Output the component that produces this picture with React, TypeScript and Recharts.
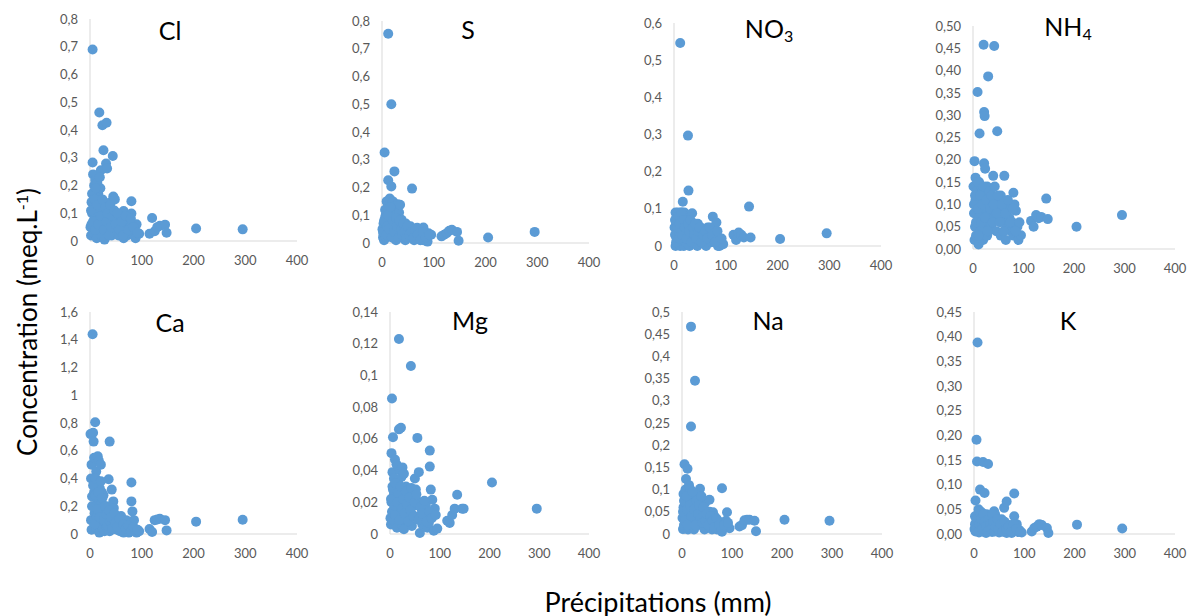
import React from 'react';
import { ScatterChart, Scatter, XAxis, YAxis } from 'recharts';

// Shared precipitation (mm) per sample
const precipitation = [
  1, 2, 3, 3, 4, 5, 5, 6, 7, 8,
  8, 9, 10, 11, 12, 12, 13, 14, 15, 16,
  17, 18, 18, 19, 20, 21, 22, 22, 23, 24,
  25, 26, 27, 28, 28, 30, 31, 32, 33, 35,
  36, 38, 38, 40, 42, 44, 45, 46, 48, 50,
  52, 55, 55, 58, 60, 62, 65, 65, 68, 70,
  72, 75, 75, 78, 80, 80, 82, 85, 88, 90,
  95, 115, 120, 125, 130, 135, 145, 148, 205, 295,
  2, 4, 6, 9, 10, 11, 14, 16, 19, 21,
  24, 27, 29, 32, 34, 37, 39, 41, 43, 47,
  49, 53, 57, 61, 64, 69, 74, 79, 84, 92,
];

// Concentrations (meq/L) per sample, same order as precipitation
const cl = [
  0.05, 0.02, 0.14, 0.06, 0.1, 0.69, 0.283, 0.24, 0.03, 0.2,
  0.12, 0.08, 0.22, 0.15, 0.18, 0.05, 0.01, 0.21, 0.1, 0.17,
  0.07, 0.463, 0.13, 0.04, 0.19, 0.255, 0.02, 0.11, 0.06, 0.417,
  0.09, 0.327, 0.14, 0.005, 0.05, 0.08, 0.279, 0.426, 0.261, 0.12,
  0.03, 0.1, 0.06, 0.14, 0.02, 0.306, 0.16, 0.08, 0.15, 0.04,
  0.07, 0.02, 0.09, 0.05, 0.08, 0.03, 0.108, 0.01, 0.06, 0.04,
  0.02, 0.06, 0.03, 0.05, 0.143, 0.099, 0.04, 0.02, 0.01, 0.06,
  0.026, 0.026, 0.083, 0.035, 0.05, 0.055, 0.059, 0.03, 0.045, 0.042,
  0.11, 0.17, 0.07, 0.15, 0.04, 0.19, 0.13, 0.06, 0.23, 0.09,
  0.15, 0.04, 0.12, 0.07, 0.1, 0.02, 0.13, 0.05, 0.09, 0.11,
  0.06, 0.1, 0.04, 0.07, 0.02, 0.09, 0.04, 0.08, 0.05, 0.03,
];
const s = [
  0.05, 0.02, 0.03, 0.07, 0.01, 0.326, 0.04, 0.09, 0.1, 0.06,
  0.02, 0.15, 0.08, 0.04, 0.226, 0.754, 0.11, 0.03, 0.16, 0.07,
  0.13, 0.5, 0.204, 0.05, 0.09, 0.15, 0.02, 0.06, 0.12, 0.258,
  0.04, 0.08, 0.01, 0.1, 0.05, 0.14, 0.03, 0.07, 0.11, 0.138,
  0.05, 0.02, 0.084, 0.06, 0.03, 0.05, 0.01, 0.07, 0.04, 0.03,
  0.05, 0.02, 0.06, 0.196, 0.04, 0.01, 0.05, 0.03, 0.055, 0.02,
  0.04, 0.03, 0.05, 0.02, 0.056, 0.01, 0.04, 0.02, 0.005, 0.035,
  0.03, 0.024, 0.03, 0.035, 0.044, 0.048, 0.04, 0.008, 0.02, 0.04,
  0.04, 0.08, 0.12, 0.03, 0.06, 0.1, 0.05, 0.13, 0.02, 0.08,
  0.04, 0.09, 0.06, 0.02, 0.08, 0.05, 0.03, 0.07, 0.04, 0.02,
  0.06, 0.03, 0.04, 0.02, 0.05, 0.03, 0.01, 0.04, 0.02, 0.03,
];
const no3 = [
  0.05, 0.03, 0.09, 0.0, 0.06, 0.02, 0.08, 0.04, 0.07, 0.01,
  0.09, 0.05, 0.03, 0.08, 0.546, 0.0, 0.06, 0.04, 0.09, 0.02,
  0.119, 0.07, 0.05, 0.0, 0.09, 0.03, 0.06, 0.01, 0.08, 0.04,
  0.05, 0.02, 0.297, 0.149, 0.07, 0.0, 0.06, 0.03, 0.05, 0.088,
  0.02, 0.06, 0.04, 0.01, 0.05, 0.03, 0.0, 0.06, 0.04, 0.02,
  0.05, 0.03, 0.01, 0.04, 0.02, 0.0, 0.05, 0.03, 0.04, 0.02,
  0.01, 0.079, 0.03, 0.05, 0.02, 0.04, 0.063, 0.0, 0.0, 0.012,
  0.005, 0.03, 0.016, 0.036, 0.03, 0.023, 0.106, 0.023, 0.019, 0.034,
  0.07, 0.01, 0.05, 0.08, 0.02, 0.06, 0.09, 0.03, 0.07, 0.05,
  0.02, 0.06, 0.04, 0.07, 0.01, 0.05, 0.03, 0.06, 0.02, 0.04,
  0.05, 0.01, 0.03, 0.04, 0.02, 0.05, 0.03, 0.01, 0.04, 0.02,
];
const nh4 = [
  0.14, 0.08, 0.197, 0.02, 0.05, 0.16, 0.11, 0.03, 0.13, 0.09,
  0.06, 0.352, 0.12, 0.01, 0.15, 0.07, 0.259, 0.1, 0.04, 0.14,
  0.08, 0.11, 0.05, 0.13, 0.02, 0.458, 0.307, 0.192, 0.298, 0.18,
  0.09, 0.12, 0.06, 0.14, 0.03, 0.387, 0.1, 0.07, 0.13, 0.11,
  0.05, 0.09, 0.12, 0.164, 0.455, 0.08, 0.11, 0.04, 0.264, 0.1,
  0.07, 0.12, 0.03, 0.09, 0.06, 0.164, 0.08, 0.02, 0.1, 0.05,
  0.07, 0.04, 0.09, 0.06, 0.126, 0.03, 0.1, 0.086, 0.05, 0.02,
  0.031, 0.063, 0.05, 0.076, 0.069, 0.072, 0.113, 0.067, 0.05, 0.076,
  0.1, 0.12, 0.06, 0.15, 0.09, 0.03, 0.12, 0.06, 0.1, 0.14,
  0.07, 0.11, 0.04, 0.13, 0.09, 0.12, 0.06, 0.1, 0.14, 0.08,
  0.12, 0.06, 0.1, 0.04, 0.08, 0.11, 0.06, 0.09, 0.04, 0.06,
];
const ca = [
  0.72, 0.1, 0.5, 0.03, 0.27, 1.44, 0.2, 0.73, 0.666, 0.55,
  0.3, 0.15, 0.805, 0.05, 0.35, 0.45, 0.12, 0.25, 0.56, 0.08,
  0.53, 0.2, 0.01, 0.33, 0.1, 0.5, 0.22, 0.06, 0.3, 0.15,
  0.04, 0.28, 0.18, 0.12, 0.02, 0.08, 0.2, 0.05, 0.15, 0.1,
  0.395, 0.666, 0.02, 0.14, 0.32, 0.07, 0.235, 0.187, 0.04, 0.12,
  0.03, 0.1, 0.06, 0.02, 0.13, 0.08, 0.01, 0.07, 0.05, 0.1,
  0.03, 0.05, 0.01, 0.08, 0.371, 0.235, 0.163, 0.1, 0.02, 0.01,
  0.02, 0.036, 0.014, 0.1, 0.105, 0.11, 0.1, 0.026, 0.089, 0.103,
  0.4, 0.2, 0.35, 0.07, 0.28, 0.4, 0.18, 0.3, 0.12, 0.38,
  0.26, 0.1, 0.2, 0.14, 0.06, 0.17, 0.09, 0.12, 0.04, 0.15,
  0.08, 0.05, 0.11, 0.03, 0.07, 0.04, 0.06, 0.02, 0.05, 0.03,
];
const mg = [
  0.01, 0.006, 0.051, 0.02, 0.0855, 0.03, 0.039, 0.061, 0.015, 0.025,
  0.035, 0.008, 0.047, 0.02, 0.03, 0.012, 0.044, 0.004, 0.025, 0.033,
  0.018, 0.066, 0.123, 0.028, 0.04, 0.01, 0.067, 0.022, 0.036, 0.006,
  0.042, 0.015, 0.026, 0.003, 0.038, 0.02, 0.011, 0.03, 0.017, 0.024,
  0.008, 0.028, 0.014, 0.02, 0.106, 0.005, 0.024, 0.012, 0.018, 0.035,
  0.028, 0.01, 0.0606, 0.039, 0.0006, 0.02, 0.015, 0.006, 0.012, 0.01,
  0.018, 0.004, 0.01, 0.007, 0.0526, 0.0425, 0.028, 0.0216, 0.002, 0.016,
  0.0034, 0.0084, 0.007, 0.012, 0.016, 0.0247, 0.016, 0.016, 0.0325, 0.016,
  0.022, 0.014, 0.028, 0.018, 0.012, 0.032, 0.02, 0.026, 0.009, 0.03,
  0.016, 0.022, 0.013, 0.027, 0.019, 0.008, 0.023, 0.015, 0.029, 0.011,
  0.02, 0.025, 0.009, 0.017, 0.013, 0.021, 0.008, 0.014, 0.01, 0.012,
];
const na = [
  0.036, 0.011, 0.06, 0.09, 0.02, 0.157, 0.04, 0.07, 0.1, 0.03,
  0.124, 0.05, 0.08, 0.147, 0.01, 0.06, 0.09, 0.03, 0.07, 0.04,
  0.1, 0.467, 0.242, 0.05, 0.02, 0.08, 0.06, 0.03, 0.09, 0.01,
  0.07, 0.345, 0.04, 0.06, 0.02, 0.08, 0.05, 0.03, 0.09, 0.04,
  0.102, 0.06, 0.02, 0.08, 0.04, 0.05, 0.01, 0.07, 0.03, 0.04,
  0.02, 0.05, 0.077, 0.03, 0.01, 0.049, 0.02, 0.04, 0.03, 0.01,
  0.03, 0.02, 0.01, 0.025, 0.103, 0.005, 0.02, 0.015, 0.03, 0.049,
  0.013, 0.017, 0.02, 0.031, 0.032, 0.032, 0.03, 0.006, 0.032, 0.03,
  0.05, 0.075, 0.03, 0.085, 0.055, 0.02, 0.11, 0.065, 0.04, 0.095,
  0.055, 0.02, 0.075, 0.045, 0.065, 0.035, 0.085, 0.025, 0.06, 0.03,
  0.045, 0.02, 0.04, 0.03, 0.015, 0.035, 0.02, 0.01, 0.02, 0.025,
];
const k = [
  0.01, 0.036, 0.005, 0.068, 0.02, 0.03, 0.191, 0.147, 0.388, 0.04,
  0.015, 0.05, 0.003, 0.025, 0.09, 0.035, 0.008, 0.045, 0.02, 0.012,
  0.03, 0.146, 0.005, 0.04, 0.02, 0.083, 0.01, 0.035, 0.025, 0.002,
  0.04, 0.015, 0.03, 0.142, 0.005, 0.02, 0.035, 0.01, 0.025, 0.03,
  0.004, 0.02, 0.012, 0.046, 0.04, 0.008, 0.03, 0.015, 0.025, 0.003,
  0.02, 0.01, 0.03, 0.005, 0.053, 0.015, 0.066, 0.002, 0.01, 0.018,
  0.005, 0.012, 0.002, 0.01, 0.082, 0.036, 0.015, 0.02, 0.004, 0.008,
  0.003, 0.005, 0.012, 0.015, 0.02, 0.018, 0.012, 0.002, 0.019, 0.011,
  0.02, 0.01, 0.03, 0.005, 0.045, 0.02, 0.03, 0.01, 0.04, 0.025,
  0.015, 0.005, 0.03, 0.02, 0.01, 0.04, 0.025, 0.005, 0.015, 0.03,
  0.01, 0.02, 0.005, 0.025, 0.01, 0.015, 0.005, 0.02, 0.01, 0.005,
];

// Tick values
const xTicks = [0, 100, 200, 300, 400];
const clTicks = [0, 0.1, 0.2, 0.3, 0.4, 0.5, 0.6, 0.7, 0.8];
const sTicks = [0, 0.1, 0.2, 0.3, 0.4, 0.5, 0.6, 0.7, 0.8];
const no3Ticks = [0, 0.1, 0.2, 0.3, 0.4, 0.5, 0.6];
const nh4Ticks = [0, 0.05, 0.1, 0.15, 0.2, 0.25, 0.3, 0.35, 0.4, 0.45, 0.5];
const caTicks = [0, 0.2, 0.4, 0.6, 0.8, 1, 1.2, 1.4, 1.6];
const mgTicks = [0, 0.02, 0.04, 0.06, 0.08, 0.1, 0.12, 0.14];
const naTicks = [0, 0.05, 0.1, 0.15, 0.2, 0.25, 0.3, 0.35, 0.4, 0.45, 0.5];
const kTicks = [0, 0.05, 0.1, 0.15, 0.2, 0.25, 0.3, 0.35, 0.4, 0.45];

const FONT = 'Lato, "Open Sans", sans-serif';
const DOT = '#5B9BD5';
const AXIS = '#D9D9D9';
const TICK = '#595959';

type Panel = {
  base: string;
  sub?: string;
  values: number[];
  ticks: number[];
  fixed?: number;
  plot: [number, number, number, number]; // x0, y0, x1, y1
  title: [number, number];
};

const panels: Panel[] = [
  { base: 'Cl', values: cl, ticks: clTicks, plot: [90, 19, 297, 241], title: [170, 30] },
  { base: 'S', values: s, ticks: sTicks, plot: [382, 21, 589, 243], title: [468, 29] },
  { base: 'NO', sub: '3', values: no3, ticks: no3Ticks, plot: [674, 23, 881, 246], title: [769, 30] },
  { base: 'NH', sub: '4', values: nh4, ticks: nh4Ticks, fixed: 2, plot: [973, 26, 1175, 249], title: [1068, 28] },
  { base: 'Ca', values: ca, ticks: caTicks, plot: [90, 312, 297, 534], title: [170, 322] },
  { base: 'Mg', values: mg, ticks: mgTicks, plot: [390, 312, 589, 534], title: [470, 320] },
  { base: 'Na', values: na, ticks: naTicks, plot: [682, 312, 882, 534], title: [768, 320] },
  { base: 'K', values: k, ticks: kTicks, fixed: 2, plot: [974, 312, 1175, 534], title: [1068, 320] },
];

const fmt = (fixed?: number) => (v: number) =>
  fixed !== undefined
    ? v.toFixed(fixed).replace('.', ',')
    : String(parseFloat(v.toFixed(4))).replace('.', ',');

const dotShape = (props: any) => (
  <circle cx={props.cx} cy={props.cy} r={5} fill={DOT} />
);

const YW = 60;
const MT = 10;
const MR = 20;
const XH = 34;

function PanelChart({ p }: { p: Panel }) {
  const [x0, y0, x1, y1] = p.plot;
  const rows = precipitation.map((pr, i) => ({ p: pr, c: p.values[i] }));
  const W = YW + (x1 - x0) + MR;
  const H = MT + (y1 - y0) + XH;
  const max = p.ticks[p.ticks.length - 1];
  return (
    <>
      <div style={{ position: 'absolute', left: x0 - YW, top: y0 - MT }}>
        <ScatterChart width={W} height={H} margin={{ top: MT, right: MR, bottom: 0, left: 0 }}>
          <XAxis
            type="number"
            dataKey="p"
            domain={[0, 400]}
            ticks={xTicks}
            height={XH}
            axisLine={{ stroke: AXIS }}
            tickLine={false}
            tickSize={0}
            tickMargin={15}
            tick={{ fill: TICK, fontSize: 13, fontFamily: FONT }}
            interval={0}
          />
          <YAxis
            type="number"
            dataKey="c"
            domain={[0, max]}
            ticks={p.ticks}
            width={YW}
            axisLine={{ stroke: AXIS }}
            tickLine={false}
            tickSize={0}
            tickMargin={12}
            tick={{ fill: TICK, fontSize: 13, fontFamily: FONT }}
            tickFormatter={fmt(p.fixed)}
            interval={0}
          />
          <Scatter data={rows} isAnimationActive={false} shape={dotShape} fill={DOT} />
        </ScatterChart>
      </div>
      <div
        style={{
          position: 'absolute',
          left: p.title[0],
          top: p.title[1],
          transform: 'translate(-50%, -50%)',
          fontFamily: FONT,
          fontSize: 25,
          color: '#000',
          whiteSpace: 'nowrap',
          lineHeight: 1,
        }}
      >
        {p.base}
        {p.sub ? <sub style={{ fontSize: 16, verticalAlign: '-0.3em' }}>{p.sub}</sub> : null}
      </div>
    </>
  );
}

export default function App() {
  return (
    <div
      style={{
        position: 'absolute',
        left: 0,
        top: 0,
        width: 1192,
        height: 616,
        background: '#fff',
        overflow: 'hidden',
      }}
    >
      {panels.map((p) => (
        <PanelChart key={p.base} p={p} />
      ))}
      <div
        style={{
          position: 'absolute',
          left: 27,
          top: 322,
          transform: 'translate(-50%, -50%) rotate(-90deg)',
          fontFamily: FONT,
          fontSize: 26,
          color: '#000',
          whiteSpace: 'nowrap',
          lineHeight: 1,
        }}
      >
        Concentration (meq.L<sup style={{ fontSize: 16, verticalAlign: '0.6em' }}>-1</sup>)
      </div>
      <div
        style={{
          position: 'absolute',
          left: 658,
          top: 601,
          transform: 'translate(-50%, -50%)',
          fontFamily: FONT,
          fontSize: 27,
          color: '#000',
          whiteSpace: 'nowrap',
          lineHeight: 1,
        }}
      >
        Précipitations (mm)
      </div>
    </div>
  );
}
